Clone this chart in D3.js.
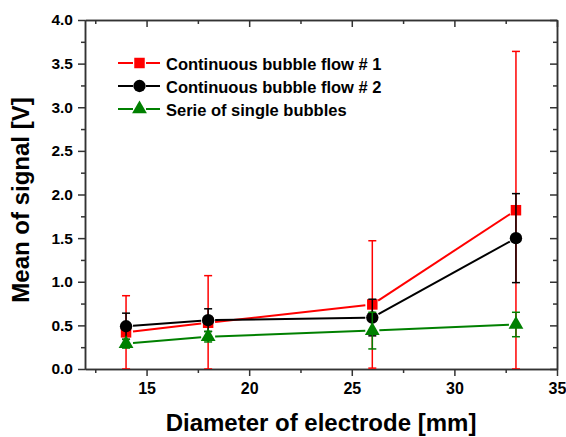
<!DOCTYPE html>
<html>
<head>
<meta charset="utf-8">
<script src="https://cdn.jsdelivr.net/npm/d3@7"></script>
<style>
  html, body { margin: 0; padding: 0; background: #fff; }
  svg { display: block; font-family: "Liberation Sans", Arial, sans-serif; }
</style>
</head>
<body>
<script>
// values
var diameters = [14, 18, 26, 33];
var flow1Mean = [0.42, 0.53, 0.74, 1.82];
var flow1Err  = [0.42, 0.54, 0.73, 1.82];
var flow2Mean = [0.49, 0.56, 0.59, 1.50];
var flow2Err  = [0.15, 0.13, 0.21, 0.51];
var singleMean = [0.29, 0.37, 0.44, 0.51];
var singleErr  = [0.05, 0.06, 0.21, 0.14];
var seriesNames = ["Continuous bubble flow # 1", "Continuous bubble flow # 2", "Serie of single bubbles"];
var xTicks = [15, 20, 25, 30, 35];
var yTicks = [0, 0.5, 1, 1.5, 2, 2.5, 3, 3.5, 4];

var W = 566, H = 437;
var m = {left: 85, right: 9, top: 20, bottom: 68};

var svg = d3.select("body").append("svg").attr("width", W).attr("height", H);

var x = d3.scaleLinear().domain([12, 35]).range([m.left, W - m.right]);
var y = d3.scaleLinear().domain([0, 4]).range([H - m.bottom, m.top]);

var series = [
  {name: seriesNames[0], mean: flow1Mean, err: flow1Err, color: "#ff0000", shape: "square"},
  {name: seriesNames[1], mean: flow2Mean, err: flow2Err, color: "#000000", shape: "circle"},
  {name: seriesNames[2], mean: singleMean, err: singleErr, color: "#008000", shape: "triangle"}
];

var xMinor = d3.range(12.5, 35, 2.5).filter(function(v) { return xTicks.indexOf(v) < 0; });
var yMinor = d3.range(0.25, 4, 0.5);

var axisColor = "#333";
var fontFam = "'Liberation Sans', Arial, sans-serif";

function styleAxis(size) {
  return function(g) {
    g.select(".domain").attr("stroke", axisColor).attr("stroke-width", 1.5);
    g.selectAll(".tick line").attr("stroke", axisColor).attr("stroke-width", 1.5);
    g.selectAll(".tick text").style("font", "bold " + size + "px " + fontFam).attr("fill", "#000");
  };
}

// bottom
svg.append("g").attr("transform", "translate(0," + y(0) + ")")
  .call(d3.axisBottom(x).tickValues(xTicks).tickSize(7).tickSizeOuter(0).tickPadding(7).tickFormat(d3.format("d")))
  .call(styleAxis(16));
svg.append("g").attr("transform", "translate(0," + y(0) + ")")
  .call(d3.axisBottom(x).tickValues(xMinor).tickSize(4).tickSizeOuter(0).tickFormat(""))
  .call(styleAxis(16));
// top
svg.append("g").attr("transform", "translate(0," + y(4) + ")")
  .call(d3.axisBottom(x).tickValues(xTicks).tickSize(7).tickSizeOuter(0).tickFormat(""))
  .call(styleAxis(16));
svg.append("g").attr("transform", "translate(0," + y(4) + ")")
  .call(d3.axisBottom(x).tickValues(xMinor).tickSize(4).tickSizeOuter(0).tickFormat(""))
  .call(styleAxis(16));
// left
svg.append("g").attr("transform", "translate(" + x(12) + ",0)")
  .call(d3.axisLeft(y).tickValues(yTicks).tickSize(7).tickSizeOuter(0).tickPadding(5).tickFormat(d3.format(".1f")))
  .call(styleAxis(15.5));
svg.append("g").attr("transform", "translate(" + x(12) + ",0)")
  .call(d3.axisLeft(y).tickValues(yMinor).tickSize(4).tickSizeOuter(0).tickFormat(""))
  .call(styleAxis(15.5));
// right
svg.append("g").attr("transform", "translate(" + x(35) + ",0)")
  .call(d3.axisLeft(y).tickValues(yTicks).tickSize(7).tickSizeOuter(0).tickFormat(""))
  .call(styleAxis(15.5));
svg.append("g").attr("transform", "translate(" + x(35) + ",0)")
  .call(d3.axisLeft(y).tickValues(yMinor).tickSize(4).tickSizeOuter(0).tickFormat(""))
  .call(styleAxis(15.5));

// clip
svg.append("clipPath").attr("id", "plot").append("rect")
  .attr("x", x(12)).attr("y", y(4)).attr("width", x(35) - x(12)).attr("height", y(0) - y(4));

var symbols = {
  square: d3.symbol(d3.symbolSquare, 110),
  circle: d3.symbol(d3.symbolCircle, 120),
  triangle: d3.symbol(d3.symbolTriangle, 95)
};

var plot = svg.append("g").attr("clip-path", "url(#plot)");
var gap = 7;

series.forEach(function(s) {
  var g = plot.append("g");
  var pts = diameters.map(function(d, i) { return {x: x(d), y: y(s.mean[i]), lo: y(Math.max(0, s.mean[i] - s.err[i])), hi: y(s.mean[i] + s.err[i])}; });

  // error bars
  pts.forEach(function(p) {
    g.append("line").attr("x1", p.x).attr("x2", p.x).attr("y1", p.lo).attr("y2", p.hi)
      .attr("stroke", s.color).attr("stroke-width", 1.5);
    [p.lo, p.hi].forEach(function(yy) {
      g.append("line").attr("x1", p.x - 4).attr("x2", p.x + 4).attr("y1", yy).attr("y2", yy)
        .attr("stroke", s.color).attr("stroke-width", 1.5);
    });
  });

  // connecting segments, with a small gap at each marker
  d3.pairs(pts).forEach(function(pr) {
    var a = pr[0], b = pr[1];
    var dx = b.x - a.x, dy = b.y - a.y, len = Math.sqrt(dx * dx + dy * dy);
    var ux = dx / len, uy = dy / len;
    g.append("line")
      .attr("x1", a.x + ux * gap).attr("y1", a.y + uy * gap)
      .attr("x2", b.x - ux * gap).attr("y2", b.y - uy * gap)
      .attr("stroke", s.color).attr("stroke-width", 2);
  });

  g.selectAll("path.mark").data(pts).enter().append("path")
    .attr("class", "mark")
    .attr("d", symbols[s.shape])
    .attr("transform", function(p) { return "translate(" + p.x + "," + p.y + ")"; })
    .attr("fill", s.color);
});

// legend
var legend = svg.append("g");
series.forEach(function(s, i) {
  var ly = 63 + i * 23;
  var lg = legend.append("g");
  lg.append("line").attr("x1", 118).attr("x2", 133).attr("y1", ly).attr("y2", ly).attr("stroke", s.color).attr("stroke-width", 2);
  lg.append("line").attr("x1", 146).attr("x2", 160).attr("y1", ly).attr("y2", ly).attr("stroke", s.color).attr("stroke-width", 2);
  lg.append("path").attr("d", symbols[s.shape]).attr("transform", "translate(139.5," + ly + ")").attr("fill", s.color);
  lg.append("text").attr("x", 166).attr("y", ly + 6.5).text(s.name)
    .style("font", "bold 16.5px " + fontFam).attr("fill", "#000");
});

// axis titles
svg.append("text")
  .attr("x", 321).attr("y", 431)
  .attr("text-anchor", "middle")
  .style("font", "bold 24px " + fontFam)
  .text("Diameter of electrode [mm]");

svg.append("text")
  .attr("transform", "translate(29,200) rotate(-90)")
  .attr("text-anchor", "middle")
  .style("font", "bold 24px " + fontFam)
  .text("Mean of signal [V]");
</script>
</body>
</html>
